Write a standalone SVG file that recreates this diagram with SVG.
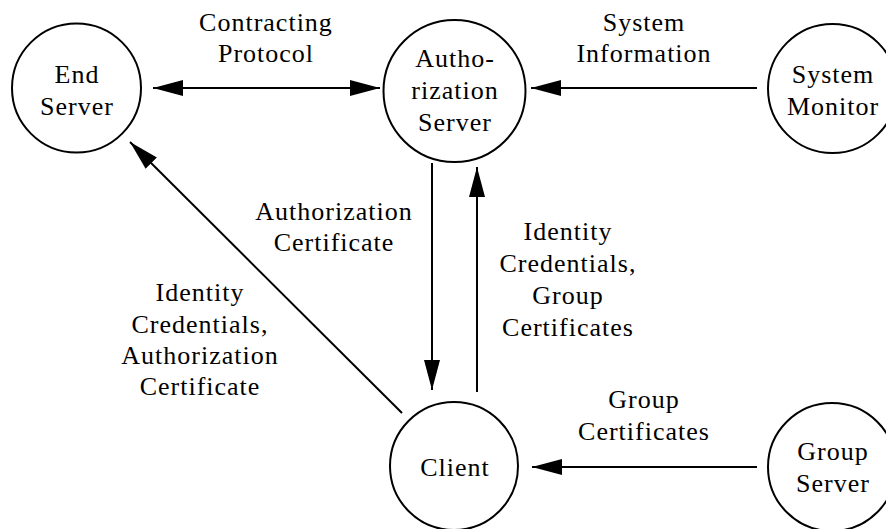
<svg xmlns="http://www.w3.org/2000/svg" width="886" height="529" viewBox="0 0 886 529">
  <style>
    .node { fill: #fff; stroke: #000; stroke-width: 2; }
    .lbl { font-family: "Liberation Serif", "DejaVu Serif", serif; font-size: 26px; letter-spacing: 1px; fill: #000; text-anchor: middle; }
    .edge { stroke: #000; stroke-width: 2; fill: none; marker-end: url(#head); }
  </style>
  <defs>
    <marker id="head" markerUnits="userSpaceOnUse" viewBox="0 0 30 16" refX="30" refY="8" markerWidth="30" markerHeight="16" orient="auto-start-reverse">
      <path d="M0,0 L30,8 L0,16 Z" fill="#000"/>
    </marker>
  </defs>

  <rect width="886" height="529" fill="#fff"/>

  <!-- connectors -->
  <g id="edges">
    <line class="edge" x1="153" y1="88" x2="380" y2="88" marker-start="url(#head)"/>
    <line class="edge" x1="757" y1="88" x2="531" y2="88"/>
    <line class="edge" x1="432" y1="163" x2="432" y2="390"/>
    <line class="edge" x1="477" y1="392" x2="477" y2="167"/>
    <line class="edge" x1="402" y1="413" x2="130" y2="142"/>
    <line class="edge" x1="757" y1="467" x2="532" y2="467"/>
  </g>

  <!-- connector labels -->
  <g id="edge-labels">
    <text class="lbl" x="266" y="31">Contracting</text>
    <text class="lbl" x="266" y="62">Protocol</text>
    <text class="lbl" x="644" y="31">System</text>
    <text class="lbl" x="644" y="62">Information</text>
    <text class="lbl" x="334" y="220">Authorization</text>
    <text class="lbl" x="334" y="251">Certificate</text>
    <text class="lbl" x="568" y="240">Identity</text>
    <text class="lbl" x="568" y="272">Credentials,</text>
    <text class="lbl" x="568" y="304">Group</text>
    <text class="lbl" x="568" y="336">Certificates</text>
    <text class="lbl" x="200" y="301">Identity</text>
    <text class="lbl" x="200" y="333">Credentials,</text>
    <text class="lbl" x="200" y="364">Authorization</text>
    <text class="lbl" x="200" y="395">Certificate</text>
    <text class="lbl" x="644" y="408">Group</text>
    <text class="lbl" x="644" y="440">Certificates</text>
  </g>

  <!-- nodes -->
  <g id="end-server">
    <circle class="node" cx="76.5" cy="88" r="64.5"/>
    <text class="lbl" x="77" y="83">End</text>
    <text class="lbl" x="77" y="115">Server</text>
  </g>
  <g id="authorization-server">
    <circle class="node" cx="454.5" cy="91" r="71"/>
    <text class="lbl" x="455" y="67">Autho-</text>
    <text class="lbl" x="455" y="99">rization</text>
    <text class="lbl" x="455" y="131">Server</text>
  </g>
  <g id="system-monitor">
    <circle class="node" cx="832.5" cy="88.5" r="64.5"/>
    <text class="lbl" x="833" y="83">System</text>
    <text class="lbl" x="833" y="115">Monitor</text>
  </g>
  <g id="client">
    <circle class="node" cx="454" cy="466" r="64"/>
    <text class="lbl" x="455" y="476">Client</text>
  </g>
  <g id="group-server">
    <circle class="node" cx="832" cy="467" r="64"/>
    <text class="lbl" x="833" y="460">Group</text>
    <text class="lbl" x="833" y="492">Server</text>
  </g>
</svg>
